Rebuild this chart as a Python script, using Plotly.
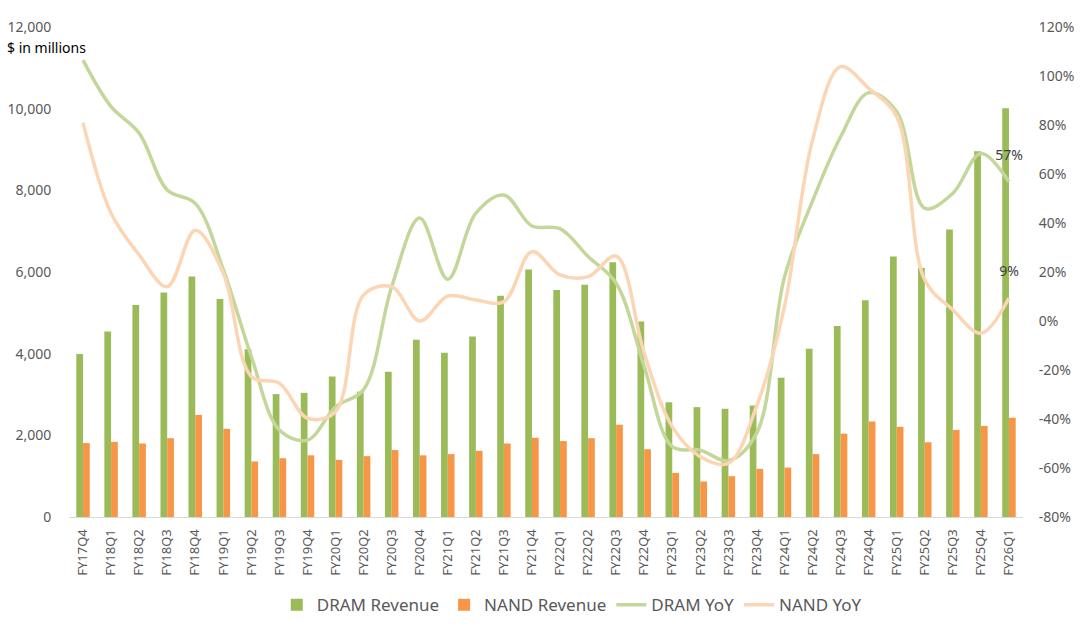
import plotly.graph_objects as go

quarters = ["FY17Q4",
            "FY18Q1", "FY18Q2", "FY18Q3", "FY18Q4",
            "FY19Q1", "FY19Q2", "FY19Q3", "FY19Q4",
            "FY20Q1", "FY20Q2", "FY20Q3", "FY20Q4",
            "FY21Q1", "FY21Q2", "FY21Q3", "FY21Q4",
            "FY22Q1", "FY22Q2", "FY22Q3", "FY22Q4",
            "FY23Q1", "FY23Q2", "FY23Q3", "FY23Q4",
            "FY24Q1", "FY24Q2", "FY24Q3", "FY24Q4",
            "FY25Q1", "FY25Q2", "FY25Q3", "FY25Q4",
            "FY26Q1"]

dram_revenue = [3990,
                4540, 5190, 5500, 5890,
                5340, 4110, 3010, 3040,
                3440, 3070, 3560, 4340,
                4020, 4420, 5420, 6060,
                5560, 5690, 6240, 4790,
                2810, 2690, 2650, 2730,
                3410, 4120, 4680, 5310,
                6380, 6100, 7040, 8960,
                10010]

nand_revenue = [1810,
                1840, 1800, 1930, 2500,
                2160, 1360, 1440, 1510,
                1400, 1490, 1640, 1510,
                1540, 1620, 1800, 1940,
                1860, 1930, 2260, 1660,
                1080, 870, 1000, 1180,
                1210, 1540, 2040, 2340,
                2210, 1830, 2130, 2230,
                2430]

dram_yoy = [1.065,
            0.875, 0.767, 0.535, 0.48,
            0.21, -0.146, -0.445, -0.486,
            -0.35, -0.28, 0.14, 0.42,
            0.17, 0.44, 0.514, 0.388,
            0.377, 0.263, 0.154, -0.186,
            -0.513, -0.527, -0.57, -0.46,
            0.18, 0.49, 0.752, 0.932,
            0.854, 0.46, 0.521, 0.684,
            0.568]

nand_yoy = [0.81,
            0.44, 0.27, 0.14, 0.37,
            0.195, -0.227, -0.254, -0.397,
            -0.37, 0.106, 0.14, 0.0,
            0.102, 0.086, 0.079, 0.283,
            0.188, 0.181, 0.265, -0.132,
            -0.431, -0.554, -0.581, -0.35,
            0.06, 0.739, 1.038, 0.95,
            0.834, 0.167, 0.045, -0.05,
            0.094]

left_ticks = [0, 2000, 4000, 6000, 8000, 10000, 12000]
right_ticks = [-0.8, -0.6, -0.4, -0.2, 0, 0.2, 0.4, 0.6, 0.8, 1.0, 1.2]


def last_label(values):
    return [""] * (len(values) - 1) + [f"{round(values[-1] * 100):.0f}%"]


def last_marker_size(values):
    # invisible spacer marker on the labelled point to lift its label
    return [0] * (len(values) - 1) + [28]


FONT = "Noto Sans"
GREY = "#595959"

fig = go.Figure()
fig.add_trace(go.Bar(name="DRAM Revenue", x=quarters, y=dram_revenue,
                     marker=dict(color="#9BBB59", line=dict(width=0)), yaxis="y"))
fig.add_trace(go.Bar(name="NAND Revenue", x=quarters, y=nand_revenue,
                     marker=dict(color="#F79646", line=dict(width=0)), yaxis="y"))
fig.add_trace(go.Scatter(name="DRAM YoY", x=quarters, y=dram_yoy, yaxis="y2",
                         mode="lines+markers+text", text=last_label(dram_yoy),
                         textposition="top center",
                         textfont=dict(family=FONT, size=14, color="#404040"),
                         marker=dict(size=last_marker_size(dram_yoy), color="rgba(0,0,0,0)",
                                     line=dict(width=0)),
                         line=dict(color="#C4D79B", width=3.5, shape="spline", smoothing=1.0)))
fig.add_trace(go.Scatter(name="NAND YoY", x=quarters, y=nand_yoy, yaxis="y2",
                         mode="lines+markers+text", text=last_label(nand_yoy),
                         textposition="top center",
                         textfont=dict(family=FONT, size=14, color="#404040"),
                         marker=dict(size=last_marker_size(nand_yoy), color="rgba(0,0,0,0)",
                                     line=dict(width=0)),
                         line=dict(color="#FCD5B4", width=3.5, shape="spline", smoothing=1.0)))

fig.update_layout(
    width=1080, height=634,
    margin=dict(l=69, r=57, t=27, b=117, autoexpand=False),
    paper_bgcolor="white", plot_bgcolor="white",
    font=dict(family=FONT, size=14, color=GREY),
    barmode="group", bargap=0.52, bargroupgap=0,
    showlegend=True,
    legend=dict(orientation="h", x=0.527, xanchor="center", y=-0.18, yanchor="middle",
                font=dict(family=FONT, size=17, color=GREY),
                itemwidth=30, tracegroupgap=0, traceorder="normal"),
    xaxis=dict(type="category", range=[-0.5, len(quarters) - 0.5],
               tickangle=-90, showgrid=False, automargin=False,
               showline=True, linecolor="#D9D9D9", linewidth=1,
               ticks="outside", ticklen=6, tickcolor="rgba(0,0,0,0)",
               tickfont=dict(family=FONT, size=13, color=GREY)),
    yaxis=dict(range=[0, 12000], tickvals=left_ticks, automargin=False,
               ticktext=[f"{v:,}" for v in left_ticks],
               showgrid=False, zeroline=False, showline=False,
               ticks="outside", ticklen=14, tickcolor="rgba(0,0,0,0)",
               tickfont=dict(family=FONT, size=14, color=GREY)),
    yaxis2=dict(range=[-0.8, 1.2], tickvals=right_ticks, automargin=False,
                ticktext=[f"{round(v * 100)}%" for v in right_ticks],
                overlaying="y", side="right",
                showgrid=False, zeroline=False, showline=False,
                ticks="outside", ticklen=12, tickcolor="rgba(0,0,0,0)",
                tickfont=dict(family=FONT, size=14, color=GREY)),
    annotations=[dict(text="$ in millions", xref="paper", yref="paper",
                      x=-64 / 954, y=(517 - 48) / 490, xanchor="left", yanchor="middle",
                      showarrow=False, font=dict(family=FONT, size=14, color="#000000"))],
)

fig.write_html("out.html")
